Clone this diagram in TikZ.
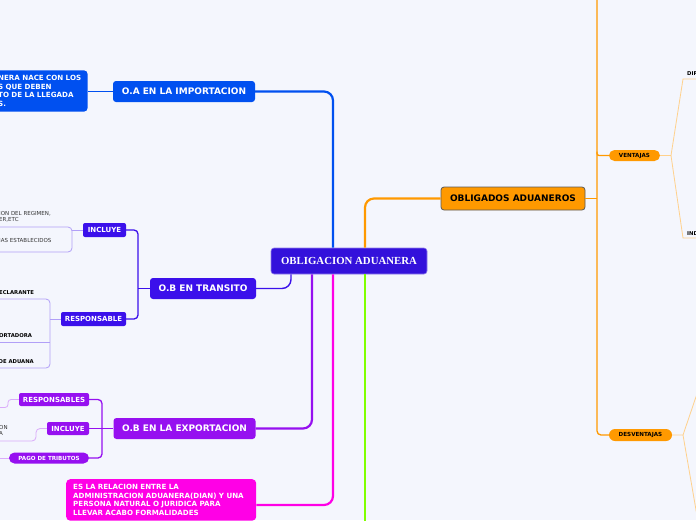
\documentclass[tikz,border=0pt]{standalone}
\usepackage{fontspec}
\newfontfamily\mapfont{DejaVu Sans}
\newfontfamily\raizfont{Liberation Serif}
\usetikzlibrary{shapes.misc}
\definecolor{fondo}{RGB}{244,246,253}
\definecolor{raiz}{RGB}{51,17,219}
\definecolor{azulimp}{RGB}{0,80,240}
\definecolor{indtran}{RGB}{59,16,235}
\definecolor{violexp}{RGB}{150,16,240}
\definecolor{magrel}{RGB}{255,0,230}
\definecolor{verdeob}{RGB}{128,255,0}
\definecolor{naranja}{RGB}{255,153,0}

\begin{document}
\begin{tikzpicture}[
  x=1pt, y=-1pt,
  %% Cajas: raiz, temas, subtemas, pildoras, notas y hojas
  raizbox/.style={rectangle, rounded corners=3pt,
                  fill=raiz, draw=raiz!55!white, line width=0.6pt,
                  text=white, font=\raizfont\bfseries\fontsize{10.8}{12}\selectfont,
                  minimum width=156pt, minimum height=26pt, inner sep=0pt},
  tema/.style={rectangle, rounded corners=3pt, fill=#1, text=white,
               font=\mapfont\bfseries\fontsize{9}{11}\selectfont,
               minimum height=21pt, inner sep=0pt},
  subtema/.style={rectangle, rounded corners=2pt, fill=#1, text=white,
                  font=\mapfont\bfseries\fontsize{7}{8}\selectfont,
                  minimum height=14pt, inner sep=0pt},
  pildora/.style={rounded rectangle, fill=#1,
                  font=\mapfont\bfseries\fontsize{5.6}{6.5}\selectfont,
                  minimum height=11pt, inner sep=0pt},
  nota/.style={rectangle, rounded corners=4pt, fill=#1, text=white,
               font=\mapfont\bfseries\fontsize{7.1}{8.7}\selectfont,
               align=left, inner ysep=5pt},
  hoja/.style={font=\mapfont\fontsize{5.5}{6.2}\selectfont,
               text=black!80, inner sep=0pt, align=left},
  hojab/.style={hoja, font=\mapfont\bfseries\fontsize{5.3}{6.2}\selectfont, text=black},
  tronco/.style={line width=2.2pt, color=#1, rounded corners=9pt},
  rama/.style={line width=1.3pt, color=#1, rounded corners=4pt},
  ramita/.style={line width=0.8pt, color=#1, rounded corners=4pt}
]
\useasboundingbox (0,0) rectangle (696,520);
\fill[fondo] (0,0) rectangle (696,520);
\clip (0,0) rectangle (696,520);

%% ── Nodo central ─────────────────────────────────────────────────────────
\node[raizbox] (central) at (349,261) {OBLIGACION ADUANERA};

%% ── Rama izquierda ───────────────────────────────────────────────────────
\node[tema=azulimp, minimum width=142pt] (oaimp) at (184,91.5) {O.A EN LA IMPORTACION};
\node[nota=azulimp, text width=86pt, inner xsep=3.5pt, anchor=west] (oanota) at (-5.5,91) {%
  NERA NACE CON LOS\\S QUE DEBEN\\TO DE LA LLEGADA\\S.};

\node[tema=indtran, minimum width=106pt] (transito) at (203,288.5) {O.B EN TRANSITO};
\node[subtema=indtran, minimum width=43pt] (tinc) at (104.5,230) {INCLUYE};
\node[subtema=indtran, minimum width=65pt] (tresp) at (93.5,319) {RESPONSABLE};

\node[hoja, anchor=north west] (tinc1) at (-1,211) {ION DEL REGIMEN,\\ER,ETC};
\node[hoja, anchor=west] (tinc2) at (-1,240) {IAS ESTABLECIDOS};
\node[hojab, anchor=west] (tresp1) at (-1,293) {ECLARANTE};
\node[hojab, anchor=west] (tresp2) at (-1,336) {ORTADORA};
\node[hojab, anchor=west] (tresp3) at (-1.5,362) {DE ADUANA};

\node[tema=violexp, minimum width=142pt] (export) at (184.5,428.5) {O.B EN LA EXPORTACION};
\node[subtema=violexp, minimum width=70pt, minimum height=13pt] (eresp) at (54,399.5) {RESPONSABLES};
\node[subtema=violexp, minimum width=42pt, minimum height=13pt] (einc) at (68,428.5) {INCLUYE};
\node[pildora=violexp, text=white, minimum width=80pt] (etrib) at (49,458) {PAGO DE TRIBUTOS};
\node[hoja, anchor=north west] (einc1) at (-1,425) {ON\\A};

\node[nota=magrel, text width=176pt, inner xsep=7pt, anchor=north west] (rel) at (66,479) {%
  ES LA RELACION ENTRE LA\\
  ADMINISTRACION ADUANERA(DIAN) Y UNA\\
  PERSONA NATURAL O JURIDICA PARA\\
  LLEVAR ACABO FORMALIDADES};

%% ── Rama derecha ─────────────────────────────────────────────────────────
\node[tema=naranja, text=black, draw=black!65, line width=0.8pt,
      minimum width=144pt, minimum height=23pt] (obligados) at (513,198.5) {OBLIGADOS ADUANEROS};
\node[pildora=naranja, minimum width=51pt] (vent) at (634.5,155.5) {VENTAJAS};
\node[pildora=naranja, minimum width=63pt, minimum height=12pt] (desv) at (640.5,435) {DESVENTAJAS};
\node[hojab, anchor=base west] (vent1) at (687,75.5) {DIR};
\node[hojab, anchor=base west] (vent2) at (687,235) {IND};

%% ── Puntos libres ────────────────────────────────────────────────────────
\coordinate (tb) at (138,319);
\coordinate (tj) at (72,252);
\coordinate (tl1) at (-2,227);
\coordinate (tl2) at (-2,252);
\coordinate (rj) at (50,368);
\coordinate (rl1) at (-2,299);
\coordinate (rl2) at (-2,342);
\coordinate (rl3) at (-2,368);
\coordinate (eb) at (102,458);
\coordinate (el1) at (-2,407.5);
\coordinate (el2) at (-2,441);
\coordinate (el3) at (-2,458);
\coordinate (verdefin) at (365,530);
\coordinate (otop) at (597,-5);
\coordinate (vj) at (671,155.5);
\coordinate (vd1) at (700,79);
\coordinate (vd2) at (700,238);
\coordinate (dj) at (683,435);
\coordinate (dd1) at (700,385);
\coordinate (dd2) at (700,533);

%% ── Troncos desde el nodo central ────────────────────────────────────────
\draw[tronco=azulimp] ([xshift=-16pt]central.north) |- (oaimp.east);
\draw[tronco=naranja] ([xshift=16pt]central.north) |- (obligados.west);
\draw[tronco=indtran, line width=1.4pt] ([xshift=-58pt]central.south) |- (transito.east);
\draw[tronco=violexp] ([xshift=-37pt]central.south) |- (export.east);
\draw[tronco=magrel] ([xshift=-16pt]central.south) |- (rel.east |- 0,505);
\draw[tronco=verdeob] ([xshift=16pt]central.south) -- (verdefin);

%% ── Subramas izquierda ───────────────────────────────────────────────────
\draw[rama=azulimp] (oaimp.west) -- (oanota.east |- oaimp.west);
\draw[rama=indtran] (transito.west) -- (transito.west -| tb);
\draw[rama=indtran] (tinc.east) -| (tb) -- (tresp.east);
\draw[ramita=indtran!40] (tinc.west) -- (tinc.west -| tj);
\draw[ramita=indtran!40] (tl1) -| (tj) -- (tl2);
\draw[ramita=indtran!40] (tresp.west) -- (tresp.west -| rj);
\draw[ramita=indtran!40] (rl1) -| (rj) -- (rl3);
\draw[ramita=indtran!40] (rl2) -- (rl2 -| rj);
\draw[rama=violexp] (export.west) -- (export.west -| eb);
\draw[rama=violexp] (eresp.east) -| (eb) -- (etrib.east);
\draw[rama=violexp] (einc.east) -- (einc.east -| eb);
\draw[ramita=violexp!35, rounded corners=3pt] (eresp.west) -| (8,407.5) -- (el1);
\draw[ramita=violexp!35] (einc.west) -| (36,441) -- (el2);
\draw[ramita=violexp!35] (etrib.west) -- (el3);

%% ── Subramas derecha ─────────────────────────────────────────────────────
\draw[rama=naranja] (obligados.east) -- (obligados.east -| otop);
\draw[rama=naranja] (otop) |- (desv.west);
\draw[rama=naranja, rounded corners=2pt] ([yshift=4pt]vent.west -| otop) |- (vent.west);
\draw[ramita=naranja!45, rounded corners=0pt] (vent.east) -- (vj) -- (683,79) -- (vd1);
\draw[ramita=naranja!45, rounded corners=0pt] (vj) -- (683,238) -- (vd2);
\draw[ramita=naranja!45, rounded corners=0pt] (desv.east) -- (dj) -- (dd1);
\draw[ramita=naranja!45, rounded corners=0pt] (dj) -- (dd2);

\end{tikzpicture}
\end{document}
